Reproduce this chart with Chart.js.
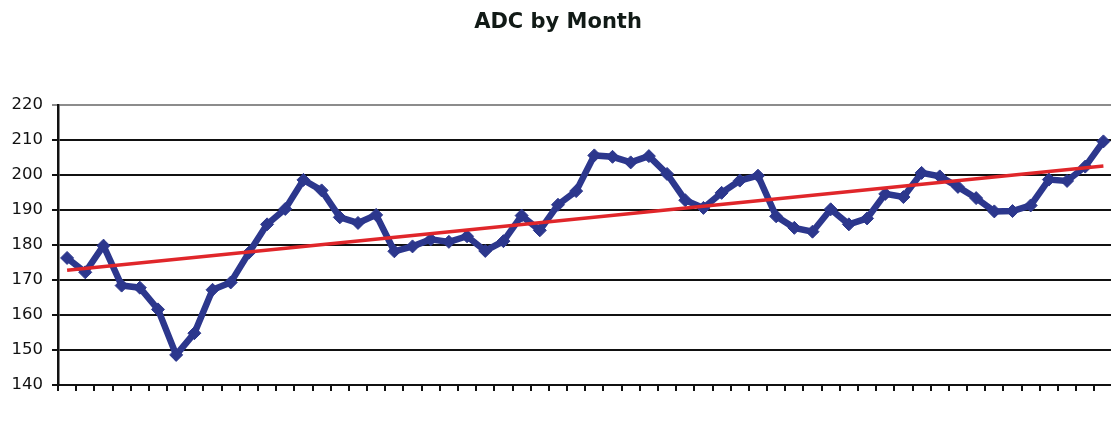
<!DOCTYPE html>
<html>
<head>
<meta charset="utf-8">
<script src="https://cdn.jsdelivr.net/npm/chart.js@4.4.1/dist/chart.umd.min.js"></script>
<style>
  html, body { margin: 0; padding: 0; background: #ffffff; overflow: hidden; }
  #wrap { width: 1120px; height: 436px; }
</style>
</head>
<body>
<div id="wrap"><canvas id="chart" width="1120" height="436"></canvas></div>
<script>
// Month index for each observation
const months = [
  1, 2, 3, 4, 5, 6, 7, 8, 9, 10, 11, 12,
  13, 14, 15, 16, 17, 18, 19, 20, 21, 22, 23, 24,
  25, 26, 27, 28, 29, 30, 31, 32, 33, 34, 35, 36,
  37, 38, 39, 40, 41, 42, 43, 44, 45, 46, 47, 48,
  49, 50, 51, 52, 53, 54, 55, 56, 57, 58
];

// Average daily census per month
const adc = [
  176.3, 172.2, 179.8, 168.4, 167.8, 161.6, 148.6, 154.8, 167.2, 169.3, 177.8, 185.9,
  190.3, 198.6, 195.6, 187.9, 186.3, 188.6, 178.2, 179.6, 181.6, 180.9, 182.5, 178.3,
  181.1, 188.4, 184.2, 191.5, 195.4, 205.6, 205.2, 203.6, 205.4, 200.3, 192.8, 190.6,
  194.9, 198.4, 199.8, 188.2, 184.9, 183.8, 190.2, 185.9, 187.6, 194.6, 193.7, 200.6,
  199.6, 196.6, 193.4, 189.6, 189.7, 191.3, 198.7, 198.3, 202.4, 209.6
];

// Linear trend: value at first and last month
const trendEnds = [172.8, 202.6];

// Value axis range and step
const yMin = 140, yMax = 220, yStep = 10;

const trendData = [
  { x: months[0], y: trendEnds[0] },
  { x: months[months.length - 1], y: trendEnds[1] }
];

new Chart(document.getElementById('chart'), {
  type: 'line',
  data: {
    labels: months,
    datasets: [
      {
        label: 'Trend',
        data: trendData,
        borderColor: '#e0262a',
        borderWidth: 3.5,
        pointRadius: 0,
        tension: 0,
        spanGaps: true,
        order: 0
      },
      {
        label: 'ADC',
        data: adc,
        borderColor: '#2c378d',
        backgroundColor: '#2c378d',
        borderWidth: 6.5,
        pointStyle: 'rectRot',
        pointRadius: 6.5,
        pointBorderWidth: 1,
        pointBorderColor: '#2c378d',
        pointBackgroundColor: '#2c378d',
        tension: 0,
        order: 1
      }
    ]
  },
  options: {
    responsive: false,
    animation: false,
    events: [],
    layout: { padding: { left: 0, right: 4, top: 0, bottom: 0 } },
    plugins: {
      legend: { display: false },
      tooltip: { enabled: false },
      title: {
        display: true,
        text: 'ADC by Month',
        color: '#111a16',
        font: { family: 'DejaVu Sans', size: 21, weight: 'bold', lineHeight: 1.2 },
        padding: { top: 10, bottom: 69.8 }
      }
    },
    scales: {
      x: {
        type: 'category',
        offset: true,
        afterFit: (scale) => { scale.height = 51; },
        grid: {
          display: true,
          offset: true,
          drawOnChartArea: false,
          drawTicks: true,
          tickLength: 6,
          color: '#111111',
          lineWidth: 2
        },
        border: { display: true, color: '#111111', width: 2 },
        ticks: { display: false }
      },
      y: {
        min: yMin,
        max: yMax,
        afterFit: (scale) => { scale.width = 58; },
        ticks: {
          stepSize: yStep,
          color: '#111111',
          padding: 9,
          font: { family: 'DejaVu Sans', size: 16.5 }
        },
        grid: {
          drawTicks: true,
          tickLength: 6,
          color: (ctx) => (ctx.tick && ctx.tick.value === yMax) ? '#8c8c8c' : '#111111',
          lineWidth: 2
        },
        border: { display: true, color: '#111111', width: 2.5 }
      }
    }
  }
});
</script>
</body>
</html>
